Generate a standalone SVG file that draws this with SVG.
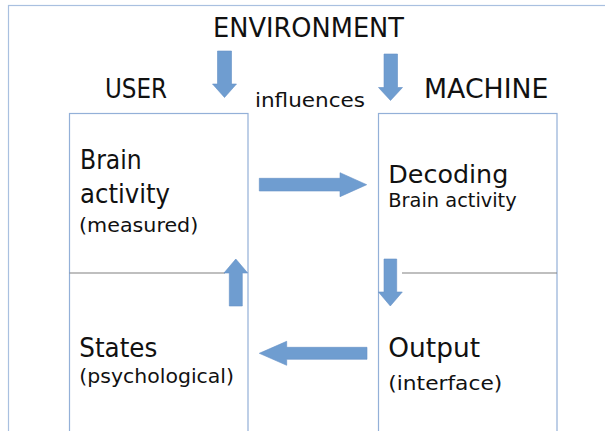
<svg xmlns="http://www.w3.org/2000/svg" width="605" height="431" viewBox="0 0 605 431">
<style>
.frame{fill:none;stroke:#a9c0e0;stroke-width:1.2}
.box{fill:none;stroke:#93b0d8;stroke-width:1.2}
.div{stroke:#808080;stroke-width:1.2}
.arr{fill:#6f9dd0;stroke:#6591c6;stroke-width:0.6}
text{font-family:"DejaVu Sans","Liberation Sans",sans-serif;fill:#111}
.big{font-size:26px}
.mid{font-size:20px}
.sm{font-size:19px}
</style>
<rect width="605" height="431" fill="#fff"/>
<rect class="frame" x="8.5" y="5.5" width="700" height="500"/>
<g id="labels">
<text class="big" x="213" y="36.7" textLength="191" lengthAdjust="spacingAndGlyphs">ENVIRONMENT</text>
<text class="big" x="105" y="98.3" textLength="62" lengthAdjust="spacingAndGlyphs">USER</text>
<text class="big" x="424" y="98.3" textLength="124.5" lengthAdjust="spacingAndGlyphs">MACHINE</text>
<text class="mid" x="255" y="106.7" textLength="110" lengthAdjust="spacingAndGlyphs">influences</text>
</g>
<g id="user">
<rect class="box" x="69.5" y="113.5" width="178.5" height="340"/>
<line class="div" x1="69.5" y1="273" x2="225" y2="273"/>
<g id="brain">
<text class="big" x="80" y="169.3" textLength="61.7" lengthAdjust="spacingAndGlyphs">Brain</text>
<text class="big" x="80" y="202.7" textLength="90" lengthAdjust="spacingAndGlyphs">activity</text>
<text class="sm" x="79" y="231.7" textLength="119.3" lengthAdjust="spacingAndGlyphs">(measured)</text>
</g>
<g id="states">
<text class="big" x="79.3" y="357.3" textLength="78" lengthAdjust="spacingAndGlyphs">States</text>
<text class="sm" x="79.3" y="383.3" textLength="154.7" lengthAdjust="spacingAndGlyphs">(psychological)</text>
</g>
</g>
<g id="machine">
<rect class="box" x="378.5" y="113.5" width="178.5" height="340"/>
<line class="div" x1="402" y1="273" x2="557" y2="273"/>
<g id="decoding">
<text x="388.3" y="183.3" font-size="25" textLength="120" lengthAdjust="spacingAndGlyphs">Decoding</text>
<text class="mid" x="388.3" y="206.7" textLength="128.4" lengthAdjust="spacingAndGlyphs">Brain activity</text>
</g>
<g id="output">
<text class="big" x="388.3" y="357.3" textLength="91.7" lengthAdjust="spacingAndGlyphs">Output</text>
<text class="sm" x="388.3" y="390" textLength="114" lengthAdjust="spacingAndGlyphs">(interface)</text>
</g>
</g>
<g id="connectors">
<polygon class="arr" points="217.5,51 231.5,51 231.5,84 236.5,84 224.5,97.5 212.5,84 217.5,84"/>
<polygon class="arr" points="384,54 397.5,54 397.5,87.5 402.5,87.5 390.5,100.5 378.5,87.5 384,87.5"/>
<polygon class="arr" points="259.3,178.3 340,178.3 340,172.7 366.7,184.7 340,196.7 340,191 259.3,191"/>
<polygon class="arr" points="229.3,306 242.3,306 242.3,273 247.7,273 235.8,259 224,273 229.3,273"/>
<polygon class="arr" points="384,259 396.7,259 396.7,292 402.3,292 390.3,306 378.5,292 384,292"/>
<polygon class="arr" points="367,347.3 286.7,347.3 286.7,341.3 259.3,353.3 286.7,365.3 286.7,359.3 367,359.3"/>
</g>
</svg>
